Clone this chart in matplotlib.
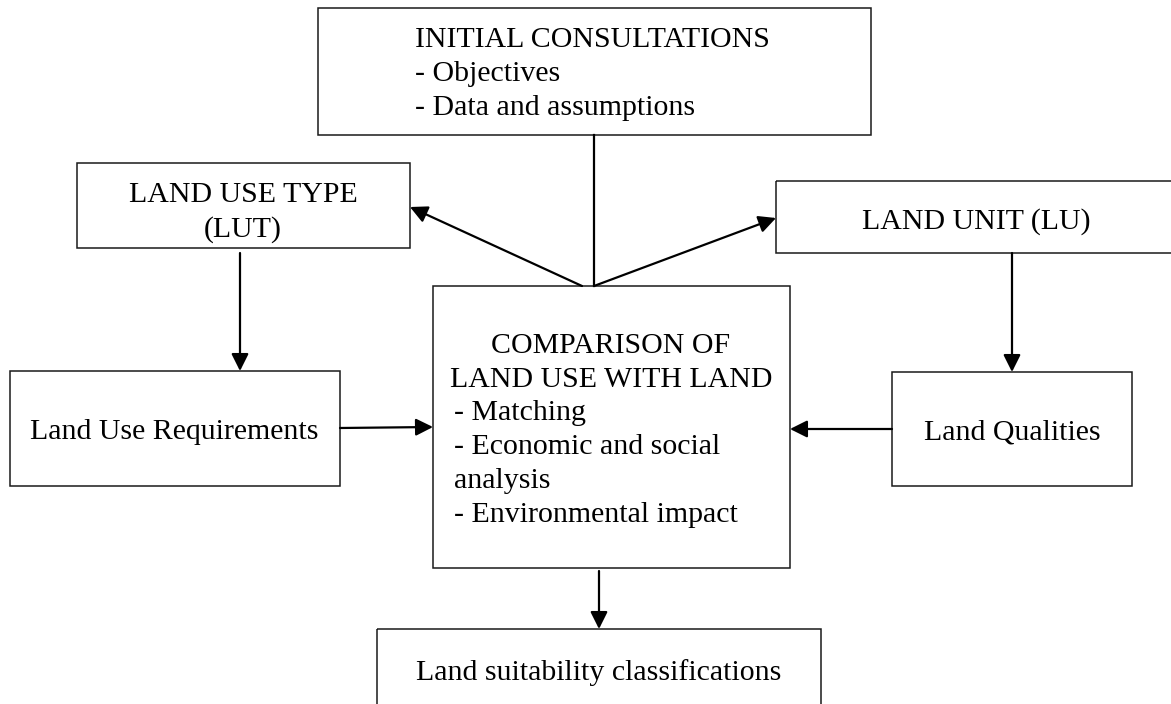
import matplotlib.pyplot as plt
from matplotlib.patches import Rectangle

# textos dos blocos
TOPO = ["INITIAL CONSULTATIONS", "- Objectives", "- Data and assumptions"]
LUT = ["LAND USE TYPE", "(LUT)"]
LU = ["LAND UNIT (LU)"]
LUR = ["Land Use Requirements"]
LQ = ["Land Qualities"]
COMPARACAO = ["COMPARISON OF", "LAND USE WITH LAND", "- Matching",
              "- Economic and social", "analysis", "- Environmental impact"]
SAIDA = ["Land suitability classifications"]

# layout em pixels (x0, y0, x1, y1), y para baixo
CAIXAS = {
    "topo": (318, 8, 871, 135),
    "lut": (77, 163, 410, 248),
    "lu": (776, 181, 1180, 253),
    "lur": (10, 371, 340, 486),
    "comp": (433, 286, 790, 568),
    "lq": (892, 372, 1132, 486),
    "saida": (377, 629, 821, 712),
}

FONTE = "Liberation Serif"
TAM = 21.5

fig = plt.figure(figsize=(11.71, 7.04), dpi=100)
ax = fig.add_axes([0, 0, 1, 1])
ax.set_xlim(0, 1171)
ax.set_ylim(704, 0)
ax.axis("off")

for x0, y0, x1, y1 in CAIXAS.values():
    ax.add_patch(Rectangle((x0, y0), x1 - x0, y1 - y0, fill=False,
                           edgecolor="#1a1a1a", lw=1.1))


def escreve(linhas, x, y0, ha="left", passo=34):
    for i, txt in enumerate(linhas):
        ax.text(x, y0 + i * passo, txt, ha=ha, va="baseline",
                fontsize=TAM, family=FONTE)


escreve(TOPO, 415, 47)
escreve(LUT, 243, 202, ha="center", passo=35)
escreve(LU, 976, 229, ha="center")
escreve(LUR, 174, 439, ha="center")
escreve(LQ, 1012, 439, ha="center")
escreve(COMPARACAO[:2], 611, 353, ha="center")
escreve(COMPARACAO[2:], 454, 420)
escreve(SAIDA, 599, 680, ha="center")


def seta(xy_fim, xy_ini):
    ax.annotate("", xy=xy_fim, xytext=xy_ini,
                arrowprops=dict(arrowstyle="-|>", color="black", lw=1.6,
                                mutation_scale=26, shrinkA=0, shrinkB=0))


# linha vertical do topo ate a caixa de comparacao
ax.plot([594, 594], [135, 286], color="black", lw=1.6)
seta((410, 207), (582, 286))
seta((776, 218), (594, 286))
seta((240, 371), (240, 253))
seta((1012, 372), (1012, 253))
seta((433, 427), (340, 428))
seta((790, 429), (892, 429))
seta((599, 629), (599, 571))

fig.savefig("out.png", dpi=100)
